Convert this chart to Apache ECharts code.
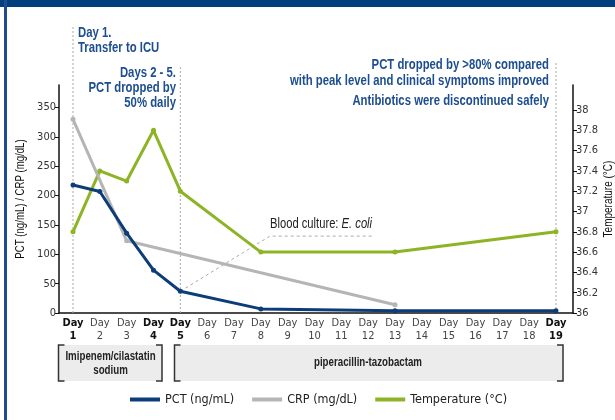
<!DOCTYPE html>
<html>
<head>
<meta charset="utf-8">
<script src="https://cdn.jsdelivr.net/npm/echarts@6/dist/echarts.min.js"></script>
<style>
html,body{margin:0;padding:0;background:#fff;}
#chart{width:615px;height:420px;}
</style>
</head>
<body>
<div id="chart"></div>
<script>
// ---- data ----
const dayTicks = [1,2,3,4,5,6,7,8,9,10,11,12,13,14,15,16,17,18,19];
const boldDays = [1,4,5,19];
const pctDays = [1,2,3,4,5,8,13,19];
const pctValues = [218,207,136,73,37,7,4,4];
const crpDays = [1,3,13];
const crpValues = [330,123,14];
const tempDays = [1,2,3,4,5,8,13,19];
const tempValues = [36.8,37.4,37.3,37.8,37.2,36.6,36.6,36.8];
const leftTicks = [0,50,100,150,200,250,300,350];
const tempTicks = [36,36.2,36.4,36.6,36.8,37,37.2,37.4,37.6,37.8,38];
const markerDays = [1,5,19];
const markerTops = [491,419,428];
const cultureLine = [[5,37],[8.34,131],[12.14,131]];

const F = "'DejaVu Sans Condensed','Liberation Sans',sans-serif";
const G = "'Liberation Sans',Arial,sans-serif";
const BLUE = '#0c3d78', GRAY = '#b5b5b5', GREEN = '#8cb424', NAVY = '#1d4e8f';

const zip = (a, b) => a.map((d, i) => [d, b[i]]);

const chart = echarts.init(document.getElementById('chart'), null, {renderer: 'canvas'});

const vlines = markerDays.map((d, i) => ({
  type: 'line', xAxisIndex: 0, yAxisIndex: 0, silent: true, clip: false, z: 1,
  symbol: 'none', data: [[d, 0], [d, markerTops[i]]],
  lineStyle: {color: '#aaaaaa', width: 1, type: [2, 2]}
}));

// condensed text (Liberation Sans squeezed horizontally)
function ctext(text, x, y, align, font, fill, sx, rot) {
  return {
    type: 'text', silent: true, x: x, y: y, scaleX: sx || 0.8, rotation: rot || 0,
    style: {text: text, x: 0, y: 0, textAlign: align, textVerticalAlign: 'middle', font: font, fill: fill}
  };
}
const ann = (t, x, y, a) => ctext(t, x, y, a, 'bold 14px ' + G, NAVY, 0.81);

function bracket(x1, x2, y1, y2) {
  return [
    {type: 'rect', silent: true, shape: {x: x1, y: y1, width: x2 - x1, height: y2 - y1}, style: {fill: '#ececec'}},
    {type: 'polyline', silent: true, shape: {points: [[x1 + 6, y1], [x1, y1], [x1, y2], [x1 + 6, y2]]}, style: {stroke: '#333', lineWidth: 1.5, fill: null}},
    {type: 'polyline', silent: true, shape: {points: [[x2 - 6, y1], [x2, y1], [x2, y2], [x2 - 6, y2]]}, style: {stroke: '#333', lineWidth: 1.5, fill: null}}
  ];
}

const option = {
  animation: false,
  backgroundColor: '#fff',
  textStyle: {fontFamily: F},
  grid: {left: 59, right: 42, top: 85, bottom: 107, containLabel: false, outerBoundsMode: 'none'},
  legend: {
    left: 125, top: 388, icon: 'rect', itemWidth: 30, itemHeight: 4, itemGap: 18,
    textStyle: {fontFamily: F, fontSize: 12.5, color: '#222'},
    data: ['PCT (ng/mL)', 'CRP (mg/dL)', 'Temperature (°C)']
  },
  xAxis: {
    type: 'value', min: 0.478, max: 19.634,
    axisLine: {show: true, lineStyle: {color: '#111', width: 1.5}},
    axisTick: {show: false},
    splitLine: {show: false},
    axisLabel: {
      customValues: dayTicks, margin: 4,
      formatter: function (v) {
        return boldDays.indexOf(v) >= 0 ? '{b|Day}\n{b|' + v + '}' : '{n|Day}\n{n|' + v + '}';
      },
      rich: {
        b: {fontFamily: F, fontSize: 11, fontWeight: 'bold', color: '#111', lineHeight: 13},
        n: {fontFamily: F, fontSize: 11, color: '#444', lineHeight: 13}
      }
    }
  },
  yAxis: [{
    type: 'value', min: 0, max: 388.5, position: 'left',
    axisLine: {show: true, lineStyle: {color: '#111', width: 1.5}},
    axisTick: {show: true, length: 4, customValues: leftTicks, lineStyle: {color: '#111'}},
    axisLabel: {customValues: leftTicks, fontFamily: F, fontSize: 11, color: '#333', margin: 3},
    splitLine: {show: false}
  }, {
    type: 'value', min: 36, max: 38.246, position: 'right',
    axisLine: {show: true, lineStyle: {color: '#111', width: 1.5}},
    axisTick: {show: true, length: 4, customValues: tempTicks, lineStyle: {color: '#111'}},
    axisLabel: {customValues: tempTicks, fontFamily: F, fontSize: 11, color: '#333', margin: 3,
      formatter: function (v) { return String(Math.round(v * 10) / 10); }},
    splitLine: {show: false}
  }],
  series: vlines.concat([
    {type: 'line', silent: true, symbol: 'none', z: 1, data: cultureLine,
      lineStyle: {color: '#aaaaaa', width: 1, type: [3, 3]}},
    {name: 'Temperature (°C)', type: 'line', yAxisIndex: 1, data: zip(tempDays, tempValues),
      symbol: 'circle', symbolSize: 5, z: 3, color: GREEN, lineStyle: {width: 3, color: GREEN}, itemStyle: {color: GREEN}},
    {name: 'CRP (mg/dL)', type: 'line', yAxisIndex: 0, data: zip(crpDays, crpValues),
      symbol: 'circle', symbolSize: 5, z: 3, color: GRAY, lineStyle: {width: 3, color: GRAY}, itemStyle: {color: GRAY}},
    {name: 'PCT (ng/mL)', type: 'line', yAxisIndex: 0, data: zip(pctDays, pctValues),
      symbol: 'circle', symbolSize: 5, z: 4, color: BLUE, lineStyle: {width: 3, color: BLUE}, itemStyle: {color: BLUE}}
  ]),
  graphic: [
    {type: 'rect', silent: true, shape: {x: 0, y: 0, width: 615, height: 7}, style: {fill: '#003f7e'}},
    {type: 'rect', silent: true, shape: {x: 4, y: 0, width: 3, height: 420}, style: {fill: '#1f4c8c'}},
    ann('Day 1.', 78, 33, 'left'),
    ann('Transfer to ICU', 78, 48, 'left'),
    ann('Days 2 - 5.', 176, 73, 'right'),
    ann('PCT dropped by', 176, 88, 'right'),
    ann('50% daily', 176, 103, 'right'),
    ann('PCT dropped by >80% compared', 549, 65, 'right'),
    ann('with peak level and clinical symptoms improved', 549, 81, 'right'),
    ann('Antibiotics were discontinued safely', 549, 101, 'right'),
    {type: 'text', silent: true, x: 270, y: 224, scaleX: 0.8, style: {
      text: '{a|Blood culture: }{i|E. coli}', x: 0, y: 0, textVerticalAlign: 'middle',
      rich: {a: {fontFamily: G, fontSize: 14, fill: '#222'}, i: {fontFamily: G, fontSize: 14, fontStyle: 'italic', fill: '#222'}}
    }},
    ctext('PCT (ng/mL) / CRP (mg/dL)', 21, 199, 'center', '12.5px ' + G, '#111', 0.77, Math.PI / 2),
    ctext('Temperature (°C)', 609, 199, 'center', '12.5px ' + G, '#111', 0.8, Math.PI / 2)
  ].concat(bracket(58.5, 162, 345, 381), bracket(174.5, 563, 345, 381), [
    ctext('Imipenem/cilastatin', 110.5, 357, 'center', 'bold 12px ' + G, '#222', 0.81),
    ctext('sodium', 110.5, 370.5, 'center', 'bold 12px ' + G, '#222', 0.81),
    ctext('piperacillin-tazobactam', 368, 363, 'center', 'bold 12px ' + G, '#222', 0.81)
  ])
};

chart.setOption(option);
</script>
</body>
</html>
